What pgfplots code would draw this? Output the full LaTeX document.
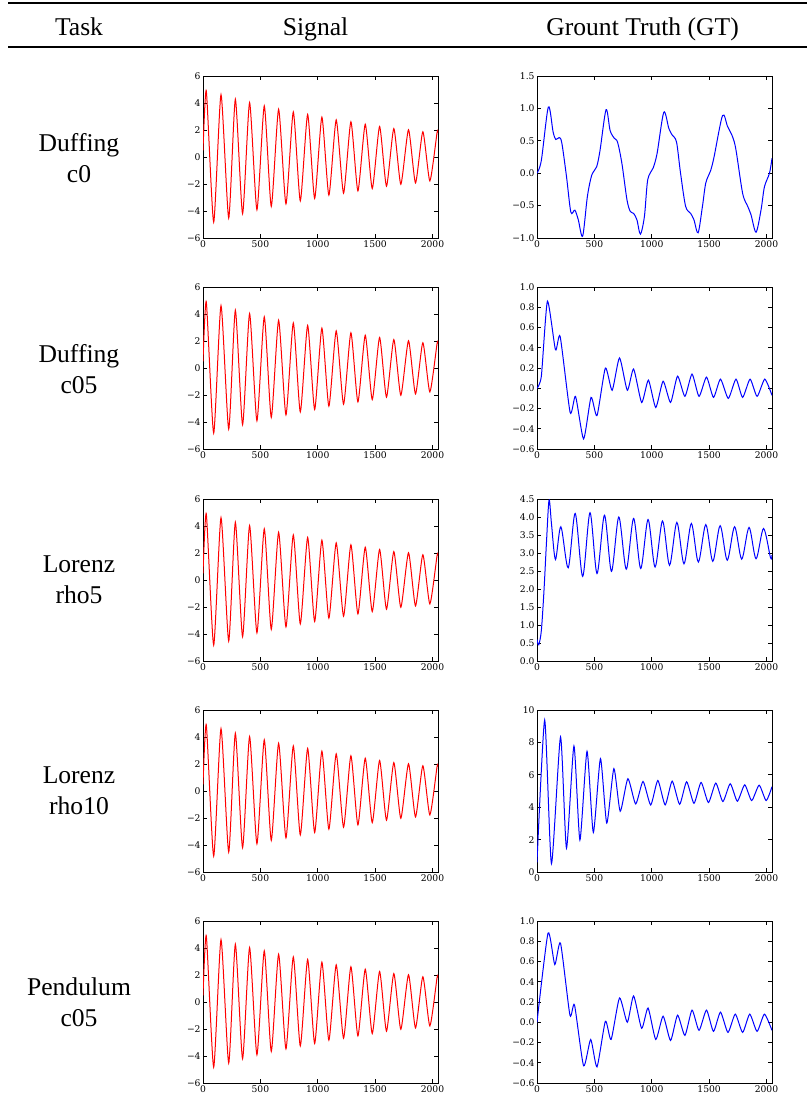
\documentclass[border=0pt]{standalone}
\usepackage{fontspec}
\setmainfont{Liberation Serif}
\newfontfamily\tickfont{DejaVu Serif}
\usepackage{pgfplots}
\pgfplotsset{compat=1.18}
\usepackage{pgfplotstable}

\pgfplotstableread{
x y
0 0.5
29 4.89
93 -4.82
157 4.62
224 -4.52
282 4.28
345 -4.2
406 4.03
470 -3.91
534 3.79
595 -3.66
659 3.54
723 -3.47
787 3.34
848 -3.25
912 3.15
973 -3.07
1036 2.95
1097 -2.83
1161 2.75
1225 -2.68
1289 2.61
1350 -2.51
1414 2.43
1475 -2.34
1539 2.26
1599 -2.16
1663 2.11
1724 -2.02
1791 2.02
1852 -1.92
1916 1.87
1977 -1.77
2040 1.82
2048 1.8
}\sig

\pgfplotstableread{
x y
0 0
38 0.2
99 1.02
140 0.64
164 0.52
193 0.55
216 0.47
257 -0.05
295 -0.60
330 -0.57
360 -0.72
398 -0.97
439 -0.36
477 -0.03
520 0.1
550 0.36
602 0.98
637 0.66
673 0.54
702 0.48
740 0.15
784 -0.41
813 -0.59
842 -0.62
871 -0.72
901 -0.94
936 -0.67
965 -0.1
1012 0.08
1047 0.31
1105 0.94
1149 0.69
1178 0.59
1216 0.48
1251 0.0
1295 -0.51
1339 -0.62
1368 -0.72
1404 -0.92
1442 -0.51
1471 -0.15
1515 0.05
1544 0.26
1617 0.89
1661 0.72
1705 0.56
1734 0.36
1792 -0.31
1836 -0.51
1865 -0.64
1909 -0.91
1953 -0.56
1982 -0.21
2026 0.0
2048 0.23
}\gtA

\pgfplotstableread{
x y
0 0
38 0.12
91 0.86
161 0.38
202 0.51
289 -0.24
336 -0.08
406 -0.50
471 -0.09
523 -0.27
596 0.20
655 -0.02
719 0.30
787 -0.02
842 0.19
912 -0.14
971 0.08
1035 -0.19
1099 0.07
1164 -0.14
1225 0.12
1289 -0.08
1351 0.14
1412 -0.08
1477 0.11
1538 -0.09
1599 0.09
1667 -0.10
1734 0.09
1792 -0.09
1857 0.09
1918 -0.08
1985 0.09
2048 -0.07
}\gtB

\pgfplotstableread{
x y
0 0.6
15 0.45
38 0.85
61 1.96
82 3.26
105 4.47
126 3.82
161 2.82
208 3.73
272 2.59
333 4.10
398 2.35
462 4.12
523 2.43
588 4.05
649 2.49
713 4.0
778 2.55
842 3.96
904 2.57
968 3.93
1029 2.61
1094 3.89
1155 2.66
1219 3.85
1281 2.70
1345 3.82
1406 2.75
1471 3.79
1532 2.77
1596 3.76
1658 2.80
1722 3.73
1784 2.83
1848 3.71
1909 2.84
1974 3.68
2035 2.87
2048 2.94
}\gtC

\pgfplotstableread{
x y
0 0.6
67 9.38
126 0.52
205 8.34
257 1.47
322 7.78
374 1.97
436 7.45
491 2.44
553 7.0
608 3.02
670 6.38
725 3.75
792 5.76
860 4.2
924 5.59
991 4.14
1053 5.65
1117 4.14
1178 5.61
1243 4.18
1304 5.57
1368 4.24
1430 5.53
1494 4.29
1558 5.49
1620 4.35
1684 5.45
1746 4.37
1810 5.38
1871 4.41
1936 5.36
1997 4.41
2048 5.26
}\gtD

\pgfplotstableread{
x y
0 0
96 0.88
155 0.57
205 0.78
287 0.07
327 0.17
406 -0.43
468 -0.17
523 -0.44
596 0.01
646 -0.17
719 0.24
787 0.0
842 0.26
912 -0.06
968 0.14
1035 -0.17
1099 0.06
1164 -0.18
1225 0.07
1289 -0.13
1351 0.12
1412 -0.08
1477 0.12
1538 -0.09
1599 0.10
1664 -0.10
1728 0.08
1792 -0.10
1854 0.08
1918 -0.09
1982 0.08
2048 -0.08
}\gtE

\pgfplotsset{
  panel/.style={scale only axis, width=117.5pt, height=81pt, anchor=north west,
    xmin=0, xmax=2048, xtick={0,500,1000,1500,2000},
    xticklabels={0,500,1000,1500,2000},
    tick align=inside, tick pos=both, major tick length=2pt,
    axis line style={line width=0.5pt, black},
    every tick/.style={black, line width=0.4pt},
    tick label style={font=\tickfont\fontsize{4.6}{5}\selectfont, inner sep=1pt},
    scaled ticks=false},
  sigp/.style={panel, ymin=-6, ymax=6, ytick={-6,-4,-2,0,2,4,6},
    yticklabels={−6,−4,−2,0,2,4,6}},
  sigline/.style={red, line width=0.5pt, smooth, tension=0.36, no markers},
  gtline/.style={blue, line width=0.5pt, smooth, tension=0.36, no markers},
  gtlineA/.style={blue, line width=0.5pt, smooth, no markers},
}

\begin{document}
\begin{tikzpicture}
\useasboundingbox (0,0) rectangle (403.5pt,-558pt);
\draw[line width=0.9pt] (4pt,-1.5pt) -- (403.5pt,-1.5pt);
\draw[line width=0.55pt] (4pt,-23.5pt) -- (403.5pt,-23.5pt);
\begin{scope}[every node/.style={anchor=base, font=\fontsize{12.8}{15.3}\selectfont}]
\node at (39.5pt,-17.5pt) {Task};
\node at (157.8pt,-17.5pt) {Signal};
\node at (321.3pt,-17.5pt) {Grount Truth (GT)};
\end{scope}
\begin{scope}[every node/.style={align=center, font=\fontsize{12.8}{15.3}\selectfont}]
\node at (39.5pt,-79pt) {Duffing\\c0};
\node at (39.5pt,-184.5pt) {Duffing\\c05};
\node at (39.5pt,-290pt) {Lorenz\\rho5};
\node at (39.5pt,-395.5pt) {Lorenz\\rho10};
\node at (39.5pt,-501pt) {Pendulum\\c05};
\end{scope}

% Row 1
\begin{axis}[sigp, at={(101.5pt,-38pt)}]
\addplot[sigline] table {\sig};
\end{axis}
\begin{axis}[panel, at={(268.5pt,-38pt)}, ymin=-1, ymax=1.5,
  ytick={-1,-0.5,0,0.5,1,1.5}, yticklabels={−1.0,−0.5,0.0,0.5,1.0,1.5}]
\addplot[gtlineA] table {\gtA};
\end{axis}

% Row 2
\begin{axis}[sigp, at={(101.5pt,-143.5pt)}]
\addplot[sigline] table {\sig};
\end{axis}
\begin{axis}[panel, at={(268.5pt,-143.5pt)}, ymin=-0.6, ymax=1.0,
  ytick={-0.6,-0.4,-0.2,0,0.2,0.4,0.6,0.8,1.0},
  yticklabels={−0.6,−0.4,−0.2,0.0,0.2,0.4,0.6,0.8,1.0}]
\addplot[gtline] table {\gtB};
\end{axis}

% Row 3
\begin{axis}[sigp, at={(101.5pt,-249.5pt)}]
\addplot[sigline] table {\sig};
\end{axis}
\begin{axis}[panel, at={(268.5pt,-249.5pt)}, ymin=0, ymax=4.5,
  ytick={0,0.5,1,1.5,2,2.5,3,3.5,4,4.5},
  yticklabels={0.0,0.5,1.0,1.5,2.0,2.5,3.0,3.5,4.0,4.5}]
\addplot[gtlineA] table {\gtC};
\end{axis}

% Row 4
\begin{axis}[sigp, at={(101.5pt,-355pt)}]
\addplot[sigline] table {\sig};
\end{axis}
\begin{axis}[panel, at={(268.5pt,-355pt)}, ymin=0, ymax=10,
  ytick={0,2,4,6,8,10}, yticklabels={0,2,4,6,8,10}]
\addplot[gtline] table {\gtD};
\end{axis}

% Row 5
\begin{axis}[sigp, at={(101.5pt,-460.5pt)}]
\addplot[sigline] table {\sig};
\end{axis}
\begin{axis}[panel, at={(268.5pt,-460.5pt)}, ymin=-0.6, ymax=1.0,
  ytick={-0.6,-0.4,-0.2,0,0.2,0.4,0.6,0.8,1.0},
  yticklabels={−0.6,−0.4,−0.2,0.0,0.2,0.4,0.6,0.8,1.0}]
\addplot[gtline] table {\gtE};
\end{axis}
\end{tikzpicture}
\end{document}
